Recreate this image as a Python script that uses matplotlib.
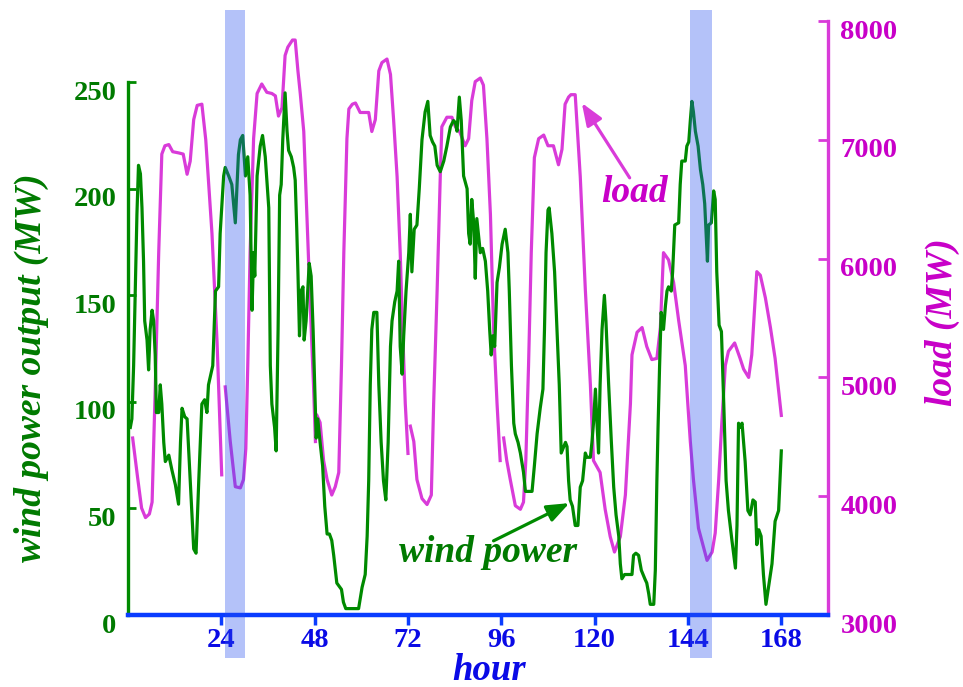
import numpy as np
import matplotlib
matplotlib.use('Agg')
import matplotlib.pyplot as plt
from matplotlib.transforms import ScaledTranslation

# Styling parameters
plt.rcParams['font.family'] = ['Liberation Serif', 'DejaVu Serif']
plt.rcParams['font.weight'] = 'bold'

GREEN_LINE = '#008a00'
GREEN_TEXT = '#007a00'
MAGENTA_LINE = '#d93bd9'
MAGENTA_TEXT = '#c800c8'
BLUE_AXIS = '#0a3cff'
BLUE_TEXT = '#0a0ae6'
SPAN_COLOR = '#2850f0'

# Hourly system load (MW), one list per day
day1_h = [1.2, 2.5, 3.5, 4.5, 5.5, 6.2, 7.0, 7.9, 8.7, 9.5, 10.5, 11.5, 13.0, 14.2, 15.2, 16.0,
          16.9, 17.8, 19.0, 20.0, 21.0, 21.6, 22.9, 23.5, 24.1]
day1_mw = [4490, 4150, 3900, 3820, 3850, 3950, 4900, 6050, 6880, 6950, 6960, 6900, 6890, 6880, 6710, 6820,
           7170, 7290, 7300, 7000, 6500, 6210, 5300, 4750, 4180]
day2_h = [25.0, 26.3, 27.6, 28.9, 29.7, 30.3, 30.8, 31.4, 32.3, 33.2, 34.4, 35.7, 37.0, 37.9, 38.7, 39.6,
          40.4, 41.1, 42.3, 43.0, 43.7, 44.3, 45.2, 46.0, 46.9, 47.7, 48.2]
day2_mw = [4920, 4460, 4080, 4070, 4140, 4400, 5100, 6050, 7010, 7390, 7470, 7400, 7390, 7370, 7200, 7270,
           7710, 7780, 7840, 7840, 7580, 7390, 7070, 6370, 5580, 4940, 4460]
day3_h = [48.6, 49.4, 50.3, 51.2, 52.4, 53.3, 54.2, 54.9, 55.5, 56.3, 56.8, 57.7, 58.5, 59.7, 61.9, 62.7,
          63.6, 64.5, 65.3, 66.6, 67.5, 68.3, 69.2, 70.0, 70.6, 71.3, 72.0]
day3_mw = [4680, 4620, 4300, 4140, 4010, 4080, 4200, 5100, 6050, 7010, 7260, 7300, 7310, 7230, 7230, 7070,
           7170, 7580, 7650, 7680, 7550, 7170, 6690, 6050, 5420, 4780, 4360]
day4_h = [72.6, 73.5, 74.3, 75.6, 76.9, 78.0, 78.6, 79.5, 80.3, 80.7, 82.0, 83.3, 84.2, 85.4, 86.7, 87.6,
          88.4, 89.3, 90.6, 91.4, 92.3, 93.2, 94.0, 94.9, 95.7]
day4_mw = [4590, 4460, 4140, 3980, 3930, 4010, 4780, 5740, 6690, 7110, 7190, 7190, 7110, 7060, 6950, 7010,
           7330, 7490, 7520, 7460, 7010, 6370, 5420, 4780, 4300]
day5_h = [96.6, 97.4, 98.3, 99.6, 100.9, 101.7, 102.3, 103.0, 103.7, 104.5, 105.6, 106.9, 108.0, 109.4,
          110.7, 111.6, 112.4, 113.3, 113.9, 115.0, 116.3, 117.6, 118.9, 119.7,
          121.4, 122.7, 124.0, 125.1, 126.6, 127.9, 129.2, 129.6, 130.9, 132.2, 133.4, 134.7, 136.0,
          136.9, 137.7, 139.0, 140.3, 141.6, 142.4, 143.3, 144.6, 145.4, 146.7, 148.0, 148.9, 150.2,
          151.0, 151.9, 152.7, 153.6, 154.4, 156.0, 157.4, 158.3, 159.6, 160.4, 161.7, 162.6, 163.9,
          165.2, 166.4, 168.0]
day5_mw = [4490, 4300, 4140, 3920, 3890, 3950, 4300, 5100, 6050, 6850, 7010, 7040, 6950, 6950,
           6790, 6920, 7300, 7360, 7380, 7380, 6690, 5740, 4940, 4300,
           4200, 3890, 3660, 3530, 3660, 4010, 4780, 5190, 5380, 5420, 5260, 5150, 5160,
           5420, 6050, 5990, 5800, 5480, 5300, 5100, 4460, 4140, 3730, 3570, 3460, 3530,
           3690, 4140, 4620, 5100, 5220, 5290, 5160, 5070, 5000, 5190, 5890, 5860, 5670,
           5420, 5160, 4680]

# Wind power output (MW)
wind_h = [0.6, 1.0, 1.45, 2.3, 2.7, 3.2, 3.6, 4.0, 4.3, 4.9, 5.3, 5.7, 6.2, 6.6, 7.0, 7.3, 7.9, 8.3,
          8.7, 9.2, 9.6, 10.5, 11.3, 12.2, 13.0, 13.5, 13.9, 14.6, 15.2, 16.0, 16.9, 17.5, 18.2, 19.0,
          19.7, 20.3, 20.7, 21.8, 22.5, 23.3, 23.7, 24.6, 25.0, 25.9, 26.7, 27.6, 28.4, 28.9, 29.5,
          30.2, 30.8, 31.4, 31.9, 32.3, 32.6, 33.2, 34.0, 34.6, 35.3, 36.2, 36.6, 37.0, 37.7, 38.1,
          38.6, 39.0, 39.4, 39.8, 40.4, 40.9, 41.3, 42.0, 42.6, 43.0, 43.4, 43.7, 43.9, 44.1, 44.5,
          45.0, 45.3, 45.8, 46.2, 46.6, 47.1, 47.6, 48.0, 48.4, 48.8, 49.4, 50.05, 50.6, 51.2, 51.8,
          52.4, 52.9, 53.7, 54.9, 55.4, 56.0, 58.0, 59.3, 60.2, 61.0, 61.5, 61.9, 62.3, 62.7, 63.2,
          64.0, 64.5, 65.1, 65.7, 66.3, 66.9, 67.5, 67.9, 68.6, 69.2, 69.6, 70.0, 70.5, 70.9, 71.5,
          72.2, 72.6, 73.0, 73.6, 74.3, 74.9, 75.6, 76.4, 77.1, 77.7, 78.3, 78.9, 79.5, 80.3, 81.2,
          82.0, 82.9, 83.7, 84.2, 84.6, 85.2, 85.7, 86.3, 87.2, 87.6, 88.0, 88.4, 88.9, 89.3, 89.7,
          90.2, 90.6, 91.2, 91.9, 92.5, 93.0, 93.4, 93.8, 94.3, 94.9, 95.5, 96.2, 97.0, 97.7, 98.05,
          98.6, 99.2, 99.6, 100.3, 100.9, 101.7, 102.2, 103.0, 103.9, 104.5, 105.2, 106.0, 106.7,
          107.1, 107.5, 108.0, 108.3, 109.0, 109.7, 110.3, 110.9, 111.4, 112.5, 112.9, 113.3, 113.7,
          114.3, 115.0, 115.7, 116.3, 116.9, 117.6, 118.0, 118.9, 119.3, 119.7, 120.2, 120.6, 121.0,
          121.4, 121.9, 122.5, 122.9, 123.6, 124.3, 124.9, 125.5, 126.2, 126.6, 127.0, 127.7, 128.7,
          129.6, 130.0, 130.6, 131.3, 132.0, 132.9, 133.4, 133.9, 134.3, 135.2, 135.6, 136.0, 136.3,
          136.7, 137.1, 137.7, 138.2, 138.6, 139.0, 139.7, 140.05, 140.6, 141.6, 142.0, 142.4, 143.3,
          143.7, 144.2, 144.6, 145.0, 145.4, 145.9, 146.6, 147.2, 147.8, 148.3, 148.6, 149.0, 149.3,
          150.0, 150.6, 151.0, 151.4, 152.0, 152.6, 153.2, 153.8, 154.4, 155.3, 156.2, 156.6, 157.0,
          157.4, 157.9, 158.3, 158.7, 159.4, 160.0, 160.7, 161.3, 161.7, 162.2, 162.8, 163.4, 164.05,
          164.7, 165.6, 166.4, 167.3, 168.0]
wind_mw = [88, 92, 117, 188, 211, 207, 191, 166, 138, 129, 115, 134, 143, 138, 122, 95, 95, 108,
           99, 81, 72, 75, 68, 61, 52, 81, 97, 93, 92, 63, 31, 29, 63, 99,
           101, 95, 108, 117, 152, 154, 179, 206, 210, 206, 202, 184, 216, 223, 225,
           206, 215, 197, 143, 170, 159, 206, 220, 225, 215, 191, 117, 99, 88, 77,
           134, 197, 202, 223, 245, 227, 218, 215, 210, 204, 181, 161, 145, 131, 152,
           154, 129, 138, 152, 165, 159, 134, 108, 83, 92, 81, 70, 51, 38, 38,
           35, 28, 15, 12, 6, 3, 3, 3, 13, 19, 37, 63, 108, 134, 142,
           142, 108, 81, 63, 54, 81, 126, 138, 147, 152, 166, 126, 113, 131, 152,
           170, 188, 161, 181, 183, 200, 223, 236, 241, 225, 222, 220, 211, 208, 213,
           220, 229, 232, 231, 227, 243, 232, 206, 200, 179, 174, 195, 184, 158, 186,
           177, 170, 172, 166, 152, 134, 122, 131, 126, 156, 163, 174, 181, 170, 152,
           117, 90, 85, 81, 76, 67, 58, 58, 58, 70, 85, 97, 106,
           134, 170, 190, 191, 179, 161, 134, 108, 76, 81, 79, 63, 54,
           51, 42, 42, 60, 63, 76, 74, 74, 81, 90, 106, 90, 76,
           108, 134, 150, 138, 108, 81, 60, 47, 37, 24, 17, 19, 19,
           19, 28, 29, 28, 21, 17, 15, 10, 5, 5, 21, 63, 88,
           117, 142, 134, 145, 152, 154, 152, 161, 183, 184, 202, 213, 213,
           220, 222, 232, 241, 236, 227, 220, 209, 202, 193, 181, 166, 183,
           184, 199, 195, 161, 136, 133, 99, 63, 49, 35, 22, 42, 90,
           88, 90, 81, 72, 49, 47, 54, 53, 33, 40, 37, 19, 5,
           13, 24, 44, 49, 77]

# Highlighted hours
spans = [(25.0, 30.2), (144.6, 150.2)]

x_ticks = [24, 48, 72, 96, 120, 144, 168]
wind_ticks = [0, 50, 100, 150, 200, 250]
load_ticks = [3000, 4000, 5000, 6000, 7000, 8000]

# join the daily load curves with gaps between days
load_h, load_mw = [], []
for hh, mw in [(day1_h, day1_mw), (day2_h, day2_mw), (day3_h, day3_mw),
               (day4_h, day4_mw), (day5_h, day5_mw)]:
    load_h += hh + [np.nan]
    load_mw += mw + [np.nan]

fig = plt.figure(figsize=(9.63, 6.87), dpi=100)
ax = fig.add_axes([0.1329, 0.1048, 0.7269, 0.8646])
ax2 = ax.twinx()

ax2.plot(load_h, load_mw, color=MAGENTA_LINE, linewidth=2.3)
ax.plot(wind_h, wind_mw, color=GREEN_LINE, linewidth=2.3)

# wind on top of load
ax.set_zorder(ax2.get_zorder() + 1)
ax.patch.set_visible(False)

ax.set_xlim(0, 180)
ax.set_ylim(0, 278.7)
ax2.set_ylim(3000, 8000)

for s in ['top', 'right']:
    ax.spines[s].set_visible(False)
for s in ['top', 'left', 'bottom']:
    ax2.spines[s].set_visible(False)
ax.spines['left'].set_color(GREEN_LINE)
ax.spines['left'].set_linewidth(2.4)
ax.spines['left'].set_bounds(0, 250)
ax.spines['bottom'].set_color(BLUE_AXIS)
ax.spines['bottom'].set_linewidth(3.2)
ax2.spines['right'].set_color(MAGENTA_LINE)
ax2.spines['right'].set_linewidth(2.4)

ax.set_xticks(x_ticks)
ax.set_yticks(wind_ticks)
ax2.set_yticks(load_ticks)
ax.tick_params(axis='x', direction='out', length=7, width=2.5, color=BLUE_AXIS,
               labelcolor=BLUE_TEXT, labelsize=20.5, pad=2.5)
ax.tick_params(axis='y', direction='in', length=6, width=2, color=GREEN_LINE,
               labelcolor=GREEN_TEXT, labelsize=20.5, pad=8.5)
ax2.tick_params(axis='y', direction='in', length=7, width=2, color=MAGENTA_LINE,
                labelcolor=MAGENTA_TEXT, labelsize=20.5, pad=9)

shift = ScaledTranslation(0, -0.08, fig.dpi_scale_trans)
for lab in ax.get_yticklabels() + ax2.get_yticklabels():
    lab.set_transform(lab.get_transform() + shift)

# shaded hours, drawn over the curves
for a, b in spans:
    ax.axvspan(a, b, ymin=-0.0724, ymax=1.0185, color=SPAN_COLOR, alpha=0.35,
               linewidth=0, zorder=5, clip_on=False)

# curve labels
arrow_style = '-|>,head_length=0.9,head_width=0.35'
ax2.annotate('', xy=(116.7, 7310), xytext=(129.0, 6680),
             arrowprops=dict(arrowstyle=arrow_style, color=MAGENTA_LINE, lw=2.3,
                             mutation_scale=15, shrinkA=0, shrinkB=0))
ax2.text(130.2, 6480, 'load', color=MAGENTA_TEXT, fontsize=27, style='italic',
         ha='center', va='baseline')
ax.annotate('', xy=(113.5, 52.5), xytext=(94.0, 34.8),
            arrowprops=dict(arrowstyle=arrow_style, color=GREEN_LINE, lw=2.3,
                            mutation_scale=15, shrinkA=0, shrinkB=0))
ax.text(92.6, 24.9, 'wind power', color=GREEN_TEXT, fontsize=27, style='italic',
        ha='center', va='baseline')

fig.text(31 / 963, 1 - 368 / 687, 'wind power output (MW)', rotation=90, ha='center',
         va='center', color=GREEN_TEXT, fontsize=27, style='italic')
fig.text(942 / 963, 1 - 322 / 687, 'load (MW)', rotation=90, ha='center',
         va='center', color=MAGENTA_TEXT, fontsize=27, style='italic')
fig.text(489 / 963, 1 - 679.5 / 687, 'hour', ha='center', va='baseline',
         color=BLUE_TEXT, fontsize=26.5, style='italic')

fig.savefig('out.png', dpi=100)
